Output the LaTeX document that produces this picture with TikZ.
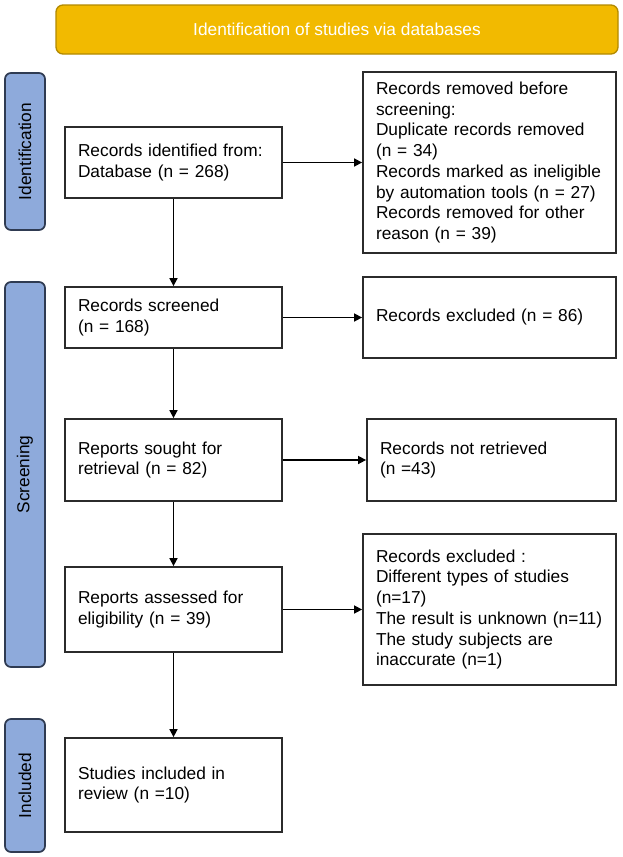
\documentclass[tikz,border=0pt]{standalone}
\usepackage{fontspec}
\setmainfont{Liberation Sans}
\usetikzlibrary{arrows.meta}
\definecolor{gold}{HTML}{F2BA00}
\definecolor{goldline}{HTML}{B38A00}
\definecolor{barblue}{HTML}{8EAADB}
\definecolor{barline}{HTML}{2F3B52}
\definecolor{boxline}{HTML}{2B2B2B}
\tikzset{
  flowbox/.style={draw=boxline, line width=1.8pt, fill=white, align=left,
    inner xsep=13pt, inner ysep=0pt, font=\fontsize{17.3}{20.7}\selectfont},
  sidebar/.style={draw=barline, fill=barblue, rounded corners=6pt, line width=1.7pt,
    rotate=90, minimum height=40pt, inner sep=0pt,
    font=\fontsize{17.3}{20.7}\selectfont},
  banner/.style={draw=goldline, fill=gold, rounded corners=7pt, line width=1.3pt,
    minimum width=562pt, minimum height=49pt, text=white,
    font=\fontsize{17.3}{20.7}\selectfont},
  arr/.style={-{Triangle[length=8pt,width=8pt]}, line width=1.6pt, draw=black}
}
\begin{document}
\begin{tikzpicture}[x=1pt,y=-1pt]
\useasboundingbox (0,0) rectangle (622,857);
\fill[white] (0,0) rectangle (622,857);

\node[banner] (title) at (337,29.5) {Identification of studies via databases};

\node[sidebar, minimum width=157pt] (idbar) at (25,151.5) {Identification};
\node[sidebar, minimum width=385pt] (scrbar) at (25,474.5) {Screening};
\node[sidebar, minimum width=133pt] (incbar) at (25,785.5) {Included};

\node[flowbox, text width=191pt, minimum height=71pt] (b1) at (173.5,162.5)
  {Records identified from:\\Database (n = 268)};
\node[flowbox, text width=227pt, minimum height=181pt] (r1) at (489.5,162.5)
  {Records removed before\\screening:\\Duplicate records removed\\(n = 34)\\Records marked as ineligible\\by automation tools (n = 27)\\Records removed for other\\reason (n = 39)};

\node[flowbox, text width=191pt, minimum height=61pt] (b2) at (173.5,317.5)
  {Records screened\\(n = 168)};
\node[flowbox, text width=227pt, minimum height=81pt] (r2) at (489.5,317.5)
  {Records excluded (n = 86)};

\node[flowbox, text width=191pt, minimum height=82pt] (b3) at (173.5,460)
  {Reports sought for\\retrieval (n = 82)};
\node[flowbox, text width=223pt, minimum height=82pt] (r3) at (491.5,460)
  {Records not retrieved\\(n =43)};

\node[flowbox, text width=191pt, minimum height=85pt] (b4) at (173.5,609.5)
  {Reports assessed for\\eligibility (n = 39)};
\node[flowbox, text width=227pt, minimum height=151pt] (r4) at (489.5,609.5)
  {Records excluded :\\Different types of studies\\(n=17)\\The result is unknown (n=11)\\The study subjects are\\inaccurate (n=1)};

\node[flowbox, text width=191pt, minimum height=94pt] (b5) at (173.5,785)
  {Studies included in\\review (n =10)};

\draw[arr] (b1.east) -- (r1.west |- b1.east);
\draw[arr] (b2.east) -- (r2.west |- b2.east);
\draw[arr] (b3.east) -- (r3.west |- b3.east);
\draw[arr] (b4.east) -- (r4.west |- b4.east);

\draw[arr] (b1.south) -- (b2.north);
\draw[arr] (b2.south) -- (b3.north);
\draw[arr] (b3.south) -- (b4.north);
\draw[arr] (b4.south) -- (b5.north);
\end{tikzpicture}
\end{document}
